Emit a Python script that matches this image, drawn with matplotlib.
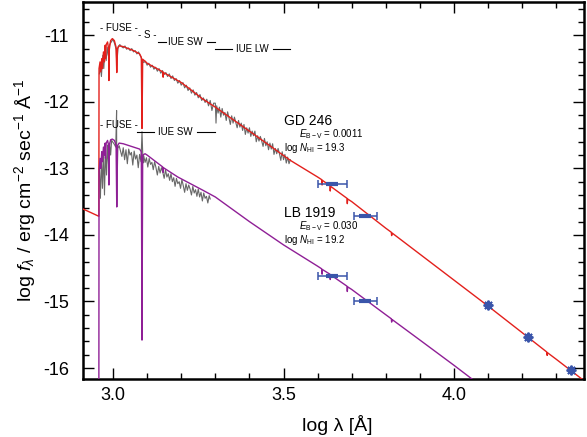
import matplotlib
matplotlib.use("Agg")
import matplotlib.pyplot as plt

plt.rcParams['font.family'] = ['Liberation Sans', 'DejaVu Sans']
plt.rcParams['mathtext.fontset'] = 'custom'
plt.rcParams['mathtext.rm'] = 'Liberation Sans'
plt.rcParams['mathtext.it'] = 'Liberation Sans:italic'
plt.rcParams['axes.unicode_minus'] = False

# ---------------- data ----------------
# GD 246 model spectrum (red)
gd_model_logw = [2.912, 2.9585, 2.959, 2.962, 2.964, 2.967, 2.969, 2.972, 2.975, 2.977, 2.978,
                 2.980, 2.984, 2.987, 2.988, 2.989, 2.993, 2.998, 3.004, 3.009, 3.011, 3.013,
                 3.018, 3.030, 3.060, 3.078, 3.083, 3.085, 3.087, 3.094, 3.100, 3.146, 3.147,
                 3.148, 3.200, 3.226, 3.261, 3.300, 3.400, 3.520, 3.600, 3.612, 3.613, 3.614,
                 3.636, 3.637, 3.638, 3.686, 3.687, 3.688, 3.700, 3.800, 3.816, 3.817, 3.818,
                 4.000, 4.100, 4.200, 4.272, 4.273, 4.274, 4.300, 4.381]
gd_model_logf = [-13.61, -13.72, -11.50, -11.40, -11.55, -11.35, -11.50, -11.25, -11.40, -11.15, -11.35,
                 -11.14, -11.10, -11.20, -11.68, -11.22, -11.08, -11.05, -11.08, -11.18, -11.56, -11.20,
                 -11.16, -11.17, -11.23, -11.28, -11.33, -12.40, -11.36, -11.39, -11.42, -11.55, -11.63,
                 -11.56, -11.71, -11.81, -11.95, -12.08, -12.44, -12.88, -13.13, -13.17, -13.25, -13.18,
                 -13.26, -13.34, -13.27, -13.45, -13.53, -13.46, -13.50, -13.90, -13.96, -14.01, -13.97,
                 -14.68, -15.07, -15.47, -15.76, -15.81, -15.77, -15.87, -16.19]

# LB 1919 model spectrum (purple)
lb_model_logw = [2.9585, 2.959, 2.962, 2.964, 2.967, 2.969, 2.972, 2.975, 2.977, 2.978, 2.980,
                 2.984, 2.987, 2.988, 2.989, 2.993, 2.998, 3.004, 3.009, 3.011, 3.013, 3.018,
                 3.030, 3.060, 3.078, 3.083, 3.085, 3.087, 3.094, 3.100, 3.146, 3.147, 3.148,
                 3.190, 3.264, 3.300, 3.400, 3.500, 3.600, 3.612, 3.613, 3.614, 3.636, 3.637,
                 3.638, 3.686, 3.687, 3.688, 3.700, 3.800, 3.816, 3.817, 3.818, 3.900, 4.000, 4.100]
lb_model_logf = [-16.60, -13.05, -12.85, -13.00, -12.75, -12.90, -12.68, -12.80, -12.62, -12.85, -12.62,
                 -12.58, -12.65, -13.25, -12.66, -12.57, -12.56, -12.58, -12.65, -13.58, -12.66, -12.62,
                 -12.63, -12.68, -12.71, -12.75, -15.58, -12.80, -12.78, -12.80, -12.98, -13.06, -12.99,
                 -13.13, -13.33, -13.43, -13.80, -14.15, -14.47, -14.51, -14.59, -14.52, -14.59, -14.67,
                 -14.60, -14.77, -14.85, -14.78, -14.82, -15.20, -15.26, -15.31, -15.27, -15.58, -15.96, -16.35]

# GD 246 observed spectrum (grey)
gd_obs_logw = [2.960, 2.963, 2.966, 2.970, 2.973, 2.976, 2.980, 2.983, 2.986, 2.990, 2.995, 3.000,
               3.005, 3.0095, 3.011, 3.015, 3.020, 3.025, 3.030, 3.035, 3.040, 3.045, 3.050, 3.055,
               3.060, 3.065, 3.070, 3.075, 3.080, 3.085, 3.090, 3.095, 3.100, 3.105, 3.110, 3.115,
               3.120, 3.125, 3.130, 3.135, 3.140, 3.145, 3.150, 3.155, 3.160, 3.165, 3.170, 3.175,
               3.180, 3.185, 3.190, 3.195, 3.200, 3.205, 3.210, 3.215, 3.220, 3.225, 3.230, 3.235,
               3.240, 3.245, 3.250, 3.255, 3.260, 3.265, 3.270, 3.275, 3.280, 3.285, 3.290, 3.295,
               3.300, 3.302, 3.304, 3.308, 3.312, 3.316, 3.320, 3.324, 3.328, 3.332, 3.336, 3.340,
               3.344, 3.348, 3.352, 3.356, 3.360, 3.364, 3.368, 3.372, 3.376, 3.380, 3.384, 3.388,
               3.392, 3.396, 3.400, 3.404, 3.408, 3.412, 3.416, 3.420, 3.424, 3.428, 3.432, 3.436,
               3.440, 3.444, 3.448, 3.452, 3.456, 3.460, 3.464, 3.468, 3.472, 3.476, 3.480, 3.484,
               3.488, 3.492, 3.496, 3.500, 3.504, 3.508, 3.512, 3.516, 3.520]
gd_obs_logf = [-11.58, -11.45, -11.62, -11.30, -11.50, -11.22, -11.38, -11.18, -11.30, -11.14, -11.10, -11.06,
               -11.13, -11.22, -11.45, -11.17, -11.14, -11.17, -11.19, -11.16, -11.21, -11.19, -11.23, -11.20,
               -11.25, -11.23, -11.28, -11.25, -11.31, -11.36, -11.41, -11.39, -11.45, -11.42, -11.48, -11.45,
               -11.51, -11.48, -11.54, -11.50, -11.57, -11.53, -11.59, -11.56, -11.62, -11.58, -11.65, -11.61,
               -11.68, -11.65, -11.72, -11.68, -11.75, -11.71, -11.79, -11.75, -11.83, -11.79, -11.87, -11.82,
               -11.90, -11.86, -11.94, -11.89, -11.98, -11.94, -12.01, -11.96, -12.06, -11.98, -12.13, -12.02,
               -12.02, -12.32, -12.06, -12.17, -12.08, -12.23, -12.10, -12.20, -12.16, -12.28, -12.15, -12.24,
               -12.34, -12.21, -12.32, -12.23, -12.31, -12.39, -12.28, -12.38, -12.32, -12.43, -12.34, -12.49,
               -12.39, -12.47, -12.39, -12.52, -12.44, -12.51, -12.44, -12.60, -12.51, -12.59, -12.52, -12.59,
               -12.67, -12.55, -12.66, -12.60, -12.72, -12.62, -12.71, -12.63, -12.79, -12.70, -12.78, -12.70,
               -12.78, -12.88, -12.75, -12.87, -12.79, -12.92, -12.83, -12.93, -12.87]

# LB 1919 observed spectrum (grey)
lb_obs_logw = [2.960, 2.963, 2.966, 2.969, 2.972, 2.975, 2.978, 2.981, 2.984, 2.987, 2.990, 2.993,
               2.996, 3.000, 3.004, 3.008, 3.0105, 3.011, 3.014, 3.018, 3.022, 3.026, 3.030, 3.034,
               3.038, 3.042, 3.046, 3.050, 3.054, 3.058, 3.062, 3.066, 3.070, 3.074, 3.078, 3.082,
               3.085, 3.088, 3.090, 3.094, 3.098, 3.102, 3.106, 3.110, 3.114, 3.118, 3.122, 3.126,
               3.130, 3.134, 3.138, 3.142, 3.146, 3.150, 3.154, 3.158, 3.162, 3.166, 3.170, 3.174,
               3.178, 3.182, 3.186, 3.190, 3.194, 3.198, 3.202, 3.206, 3.210, 3.214, 3.218, 3.222,
               3.226, 3.230, 3.234, 3.238, 3.242, 3.246, 3.250, 3.254, 3.258, 3.262, 3.266, 3.270,
               3.274, 3.278, 3.282, 3.285]
lb_obs_logf = [-13.00, -13.45, -12.85, -13.30, -12.75, -13.40, -12.70, -13.10, -12.65, -12.95, -12.62, -12.80,
               -12.58, -12.61, -12.64, -12.68, -12.13, -13.55, -12.70, -12.66, -12.74, -12.82, -12.69, -12.87,
               -12.72, -12.93, -12.71, -12.80, -12.76, -12.95, -12.74, -12.86, -12.80, -12.99, -12.79, -12.90,
               -12.45, -12.92, -12.81, -12.91, -12.84, -12.98, -12.85, -12.94, -12.91, -13.02, -12.90, -12.99,
               -13.10, -12.97, -13.07, -12.99, -13.06, -13.15, -13.02, -13.13, -13.08, -13.18, -13.08, -13.20,
               -13.14, -13.27, -13.15, -13.23, -13.20, -13.30, -13.17, -13.26, -13.36, -13.23, -13.33, -13.25,
               -13.31, -13.40, -13.27, -13.37, -13.32, -13.42, -13.31, -13.43, -13.36, -13.49, -13.37, -13.45,
               -13.42, -13.52, -13.41, -13.46]

# photometry
opt_logw = [3.643, 3.740]
opt_logw_err = [0.043, 0.034]
gd_opt_logf = [-13.24, -13.72]
lb_opt_logf = [-14.62, -14.99]
ir_logw = [4.100, 4.217, 4.343]
gd_ir_logf = [-15.05, -15.53, -16.03]

# ---------------- figure ----------------
RED = '#e3201c'
PURPLE = '#8f1f96'
GREY = '#686868'
BLUE = '#3a55aa'

fig = plt.figure(figsize=(5.87, 4.37), dpi=100)
ax = fig.add_axes([83 / 587, 1 - 379 / 437, (584 - 83) / 587, (379 - 2) / 437])

ax.plot(gd_obs_logw, gd_obs_logf, color=GREY, lw=0.8, zorder=2)
ax.plot(lb_obs_logw, lb_obs_logf, color=GREY, lw=0.8, zorder=2)
ax.plot(gd_model_logw, gd_model_logf, color=RED, lw=1.0, zorder=3)
ax.plot(lb_model_logw, lb_model_logf, color=PURPLE, lw=1.0, zorder=3)

for fl in (gd_opt_logf, lb_opt_logf):
    ax.errorbar(opt_logw, fl, xerr=opt_logw_err, fmt='none', ecolor=BLUE,
                elinewidth=1.1, capsize=3, capthick=1.1, zorder=4)
    ax.plot(opt_logw, fl, ls='none', marker='_', ms=8, mew=3, color=BLUE, zorder=5)
ax.plot(ir_logw, gd_ir_logf, ls='none', marker=(8, 2, 0), ms=7, mew=1.4, color=BLUE, zorder=5)

# star labels
ax.text(3.50, -12.29, 'GD 246', fontsize=10, ha='left', va='center')
ax.text(3.545, -12.48, r'$E_{\mathrm{B-V}}$ = 0.0011', fontsize=7, ha='left', va='center')
ax.text(3.50, -12.69, r'log $N_{\mathrm{HI}}$ = 19.3', fontsize=7, ha='left', va='center')
ax.text(3.50, -13.67, 'LB 1919', fontsize=10, ha='left', va='center')
ax.text(3.545, -13.86, r'$E_{\mathrm{B-V}}$ = 0.030', fontsize=7, ha='left', va='center')
ax.text(3.50, -14.07, r'log $N_{\mathrm{HI}}$ = 19.2', fontsize=7, ha='left', va='center')

# instrument ranges
def inst(label, xc, y, segs=()):
    ax.text(xc, y, label, fontsize=7, ha='center', va='center')
    for x0, x1 in segs:
        ax.plot([x0, x1], [y, y], color='k', lw=0.8)

inst('- FUSE -', 3.018, -10.895)
inst('- S -', 3.101, -11.0)
inst('IUE SW', 3.213, -11.105, [(3.132, 3.155), (3.276, 3.299)])
inst('IUE LW', 3.409, -11.21, [(3.299, 3.349), (3.469, 3.519)])
inst('- FUSE -', 3.018, -12.35)
inst('IUE SW', 3.183, -12.45, [(3.070, 3.120), (3.246, 3.299)])

ax.set_xticks([3.0, 3.5, 4.0])
ax.set_xticklabels(['3.0', '3.5', '4.0'])
ax.set_xticks([x / 10 for x in range(29, 44)], minor=True)
ax.set_yticks([-16, -15, -14, -13, -12, -11])
ax.set_yticklabels(['-16', '-15', '-14', '-13', '-12', '-11'])
ax.set_yticks([-16.2 + 0.2 * i for i in range(29)], minor=True)
ax.set_xlim(2.912, 4.381)
ax.set_ylim(-16.165, -10.5)

ax.tick_params(which='both', direction='in', top=True, right=True, width=1, labelsize=13)
ax.tick_params(which='major', length=8)
ax.tick_params(which='minor', length=4.5)
ax.tick_params(axis='x', pad=6)
ax.tick_params(axis='y', pad=10)
for s in ax.spines.values():
    s.set_linewidth(1.8)

ax.set_xlabel('log λ [Å]', fontsize=14)
ax.xaxis.label.set_va('center')
ax.xaxis.set_label_coords(0.507, -0.122)
ax.set_ylabel(r'log $f_{\lambda}$ / erg cm$^{-2}$ sec$^{-1}$ $\mathrm{\AA}^{-1}$', fontsize=14)
ax.yaxis.label.set_va('center')
ax.yaxis.set_label_coords(-0.116, 0.5)

fig.savefig('out.png', dpi=100)
